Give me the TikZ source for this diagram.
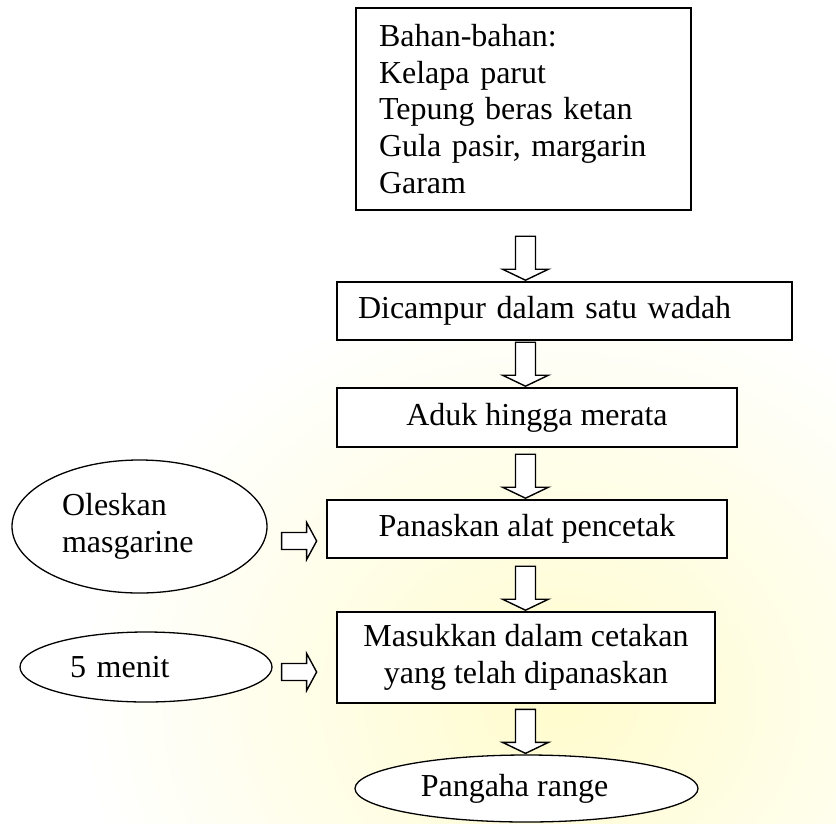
\documentclass[tikz,border=0pt]{standalone}
\usepackage{fontspec}
\setmainfont{Liberation Serif}
\usetikzlibrary{shapes.geometric,calc}
\newcommand\hollowdown[1]{%
  \draw[blockarrow] ($(col |- #1.north)+(-10,-45)$) -- ++(20,0) -- ++(0,33) -- ++(13,0) -- ++(-23,11) -- ++(-23,-11) -- ++(13,0) -- cycle;}
\newcommand\hollowright[1]{%
  \draw[blockarrow] ($(#1)+(0,-8.5)$) -- ++(25,0) -- ++(0,-10) -- ++(10,18.5) -- ++(-10,18.5) -- ++(0,-10) -- ++(-25,0) -- cycle;}
\begin{document}
\begin{tikzpicture}[x=1pt,y=-1pt,
  every node/.style={font=\fontsize{32}{36.8}\selectfont, inner sep=0pt},
  stepbox/.style={draw, rectangle, line width=1.6pt, fill=white},
  oval/.style={draw, ellipse, line width=1.3pt, fill=white},
  blockarrow/.style={draw, line width=1.4pt, fill=white, line join=miter}]
\useasboundingbox (0,0) rectangle (836,823);
\fill[white] (0,0) rectangle (836,823);
\shade[inner color={rgb,255:red,255;green,252;blue,205}, outer color=white] (560,700) ellipse [x radius=480, y radius=420];

\coordinate (col) at (525.5,0);

\node[stepbox, align=left, text width=289pt, inner xsep=23pt, minimum height=202pt] (top) at (523.5,109)
  {Bahan-bahan:\\Kelapa parut\\Tepung beras ketan\\Gula pasir, margarin\\Garam};
\node[stepbox, align=left, text width=413pt, inner xsep=21pt, minimum height=58pt] (mix) at (564.5,311)
  {Dicampur dalam satu wadah};
\node[stepbox, minimum width=400pt, minimum height=59pt] (aduk) at (537,417.5) {Aduk hingga merata};
\node[stepbox, minimum width=400pt, minimum height=58pt] (panas) at (527,529) {Panaskan alat pencetak};
\node[stepbox, align=center, minimum width=378pt, minimum height=91pt] (masuk) at (526,657.5)
  {Masukkan dalam cetakan\\yang telah dipanaskan};
\node[oval, minimum width=343pt, minimum height=67pt] (hasil) at (526.5,788.5) {Pangaha range\kern24pt};
\node[oval, align=left, text width=155pt, minimum width=255pt, minimum height=133pt] (ol) at (139.5,526.5)
  {Oleskan\\masgarine};
\node[oval, align=left, text width=152pt, minimum width=252pt, minimum height=70pt] (ft) at (146,667) {5 menit};

\hollowdown{mix}
\hollowdown{aduk}
\hollowdown{panas}
\hollowdown{masuk}
\hollowdown{hasil}

\coordinate (ra1) at ($(ol.east)+(14,14.5)$);
\coordinate (ra2) at ($(ft.east)+(9,5)$);
\hollowright{ra1}
\hollowright{ra2}
\end{tikzpicture}
\end{document}
